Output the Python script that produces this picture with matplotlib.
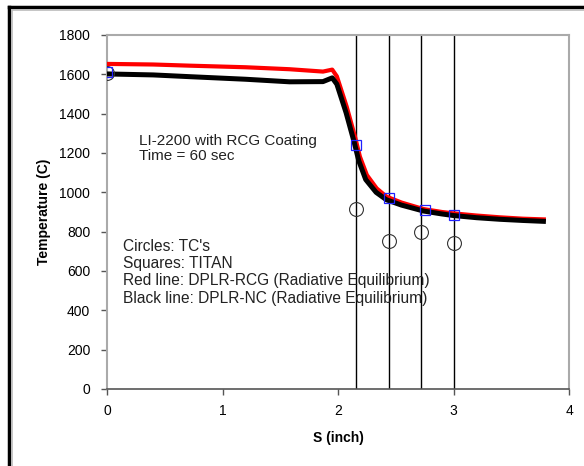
import matplotlib

matplotlib.use("Agg")

import matplotlib.pyplot as plt
from matplotlib.lines import Line2D

plt.rcParams["font.family"] = ["Liberation Sans", "DejaVu Sans"]

# DPLR curves (s in inch, temperature in C)
red_s = [0.0, 0.4, 0.72, 1.2, 1.58, 1.87, 1.95, 1.99, 2.075, 2.147, 2.19, 2.25,
         2.335, 2.42, 2.55, 2.74, 2.9, 3.0, 3.2, 3.4, 3.6, 3.8]
red_t = [1653, 1650, 1644, 1636, 1626, 1614, 1624, 1590, 1436, 1283, 1181, 1088,
         1020, 978, 948, 915, 900, 893, 882, 873, 866, 862]
black_s = [0.0, 0.4, 0.72, 1.2, 1.58, 1.87, 1.95, 1.99, 2.07, 2.14, 2.18, 2.24,
           2.33, 2.42, 2.55, 2.74, 2.9, 3.0, 3.2, 3.4, 3.6, 3.8]
black_t = [1602, 1597, 1588, 1575, 1562, 1563, 1582, 1550, 1405, 1255, 1160, 1065,
           1000, 962, 935, 905, 890, 882, 871, 863, 857, 852]

# TITAN squares and thermocouple circles
titan_s = [0.0, 2.16, 2.44, 2.75, 3.0]
titan_t = [1612, 1240, 970, 908, 885]
tc_s = [0.0, 2.16, 2.44, 2.72, 3.0]
tc_t = [1608, 914, 754, 800, 741]

# thermocouple locations
tc_lines = [2.16, 2.44, 2.72, 3.0]

fig = plt.figure(figsize=(5.84, 4.66), dpi=100)
ax = fig.add_axes([107 / 584, 77 / 466, 462 / 584, 354 / 466])

for x in tc_lines:
    ax.plot([x, x], [0, 1800], color="black", lw=1.0, zorder=2)

ax.plot(red_s, red_t, color="#ff0000", lw=3.0, zorder=3, solid_capstyle="butt")
ax.plot(black_s, black_t, color="black", lw=3.6, zorder=4, solid_capstyle="butt")
ax.plot(tc_s, tc_t, ls="none", marker="o", ms=10, mfc="none", mec="#333333",
        mew=0.8, zorder=5)
ax.plot(titan_s, titan_t, ls="none", marker="s", ms=7.5, mfc="none", mec="#2020ff",
        mew=0.9, zorder=6)

ax.set_xlim(0, 4)
ax.set_ylim(0, 1800)
ax.set_xticks([0, 1, 2, 3, 4])
ax.set_yticks(range(0, 1801, 200))
ax.tick_params(direction="out", length=4, width=1, colors="#555555",
               labelcolor="black", labelsize=10)
ax.tick_params(axis="y", pad=8)
ax.tick_params(axis="x", pad=7)
for side in ("top", "right", "left"):
    ax.spines[side].set_color("#aaaaaa")
    ax.spines[side].set_linewidth(1.5)
ax.spines["bottom"].set_color("#555555")
ax.spines["bottom"].set_linewidth(1.2)

ax.set_xlabel("S (inch)", fontsize=10, fontweight="bold", labelpad=9)
ax.set_ylabel("Temperature (C)", fontsize=10, fontweight="bold", labelpad=6)

ax.text(0.28, 1295, "LI-2200 with RCG Coating\nTime = 60 sec", fontsize=11,
        va="top", linespacing=1.05, color="#222222")
ax.text(0.14, 765, "Circles: TC's\nSquares: TITAN\n"
        "Red line: DPLR-RCG (Radiative Equilibrium)\n"
        "Black line: DPLR-NC (Radiative Equilibrium)",
        fontsize=11.2, va="top", linespacing=1.2, color="#222222")

# outer frame
fig.add_artist(Line2D([9 / 584, 9 / 584], [0, 1 - 6.5 / 466], color="black", lw=2.5))
fig.add_artist(Line2D([9 / 584, 1], [1 - 6.5 / 466, 1 - 6.5 / 466], color="black", lw=2.5))
fig.add_artist(Line2D([12 / 584, 12 / 584], [0, 1 - 10 / 466], color="#bbbbbb", lw=1.2))
fig.add_artist(Line2D([12 / 584, 1], [1 - 10 / 466, 1 - 10 / 466], color="#bbbbbb", lw=1.2))

fig.savefig("out.png", dpi=100, facecolor="white")
